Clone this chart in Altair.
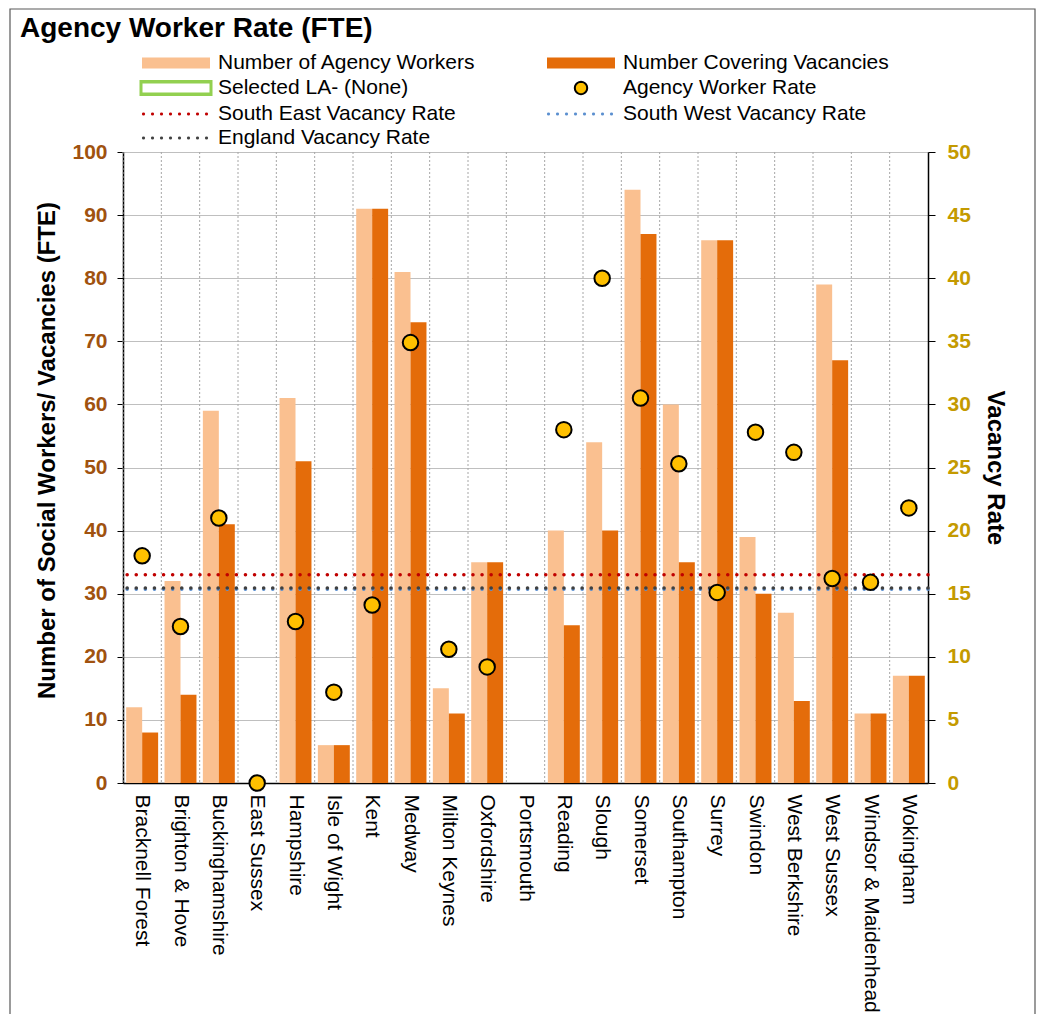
import math
import altair as alt
import pandas as pd

FONT = "Liberation Sans"

authorities = ["Bracknell Forest", "Brighton & Hove", "Buckinghamshire", "East Sussex",
               "Hampshire", "Isle of Wight", "Kent", "Medway", "Milton Keynes",
               "Oxfordshire", "Portsmouth", "Reading", "Slough", "Somerset",
               "Southampton", "Surrey", "Swindon", "West Berkshire", "West Sussex",
               "Windsor & Maidenhead", "Wokingham"]
agency_workers = [12, 32, 59, 0, 61, 6, 91, 81, 15, 35, None, 40, 54, 94, 60, 86, 39, 27, 79, 11, 17]
covering_vacancies = [8, 14, 41, 0, 51, 6, 91, 73, 11, 35, None, 25, 40, 87, 35, 86, 30, 13, 67, 11, 17]
agency_rate = [18.0, 12.4, 21.0, 0.0, 12.8, 7.2, 14.1, 34.9, 10.6, 9.2, None, 28.0, 40.0,
               30.5, 25.3, 15.1, 27.8, 26.2, 16.2, 15.9, 21.8]

region_names = ["South East Vacancy Rate", "South West Vacancy Rate", "England Vacancy Rate"]
region_rates = [16.5, 15.35, 15.45]
region_colors = ["#C00000", "#5B8FD0", "#404040"]

legend_items = ["Number of Agency Workers", "Number  Covering Vacancies", "Selected LA- (None)",
                "Agency Worker Rate", "South East Vacancy Rate", "South West Vacancy Rate",
                "England Vacancy Rate"]
legend_fills = ["#FAC090", "#E46C0A", "#92D050", "#FFC000", "#C00000", "#5B8FD0", "#404040"]
legend_strokes = ["transparent", "transparent", "transparent", "#000000",
                  "transparent", "transparent", "transparent"]


def poly_path(cx, r, n=16):
    pts = []
    for k in range(n):
        a = 2 * math.pi * k / n
        pts.append(f"{cx + r * math.cos(a):.3f},{r * math.sin(a):.3f}")
    return "M" + "L".join(pts) + "Z"


# legend symbol shapes (unit paths, scaled by the legend symbol size)
bar_path = "M-1,-0.55H5.8V0.55H-1Z"
ring_path = "M-1.25,-0.8H6.05V0.8H-1.25Z M-0.95,-0.45V0.45H5.75V-0.45Z"
circle_path = poly_path(2.4, 0.62, 20)
dot_path = " ".join(poly_path(-0.85 + i * 0.9, 0.16, 8) for i in range(8))
legend_shapes = [bar_path, bar_path, ring_path, circle_path, dot_path, dot_path, dot_path]

series_names = [legend_items[0], legend_items[1]]
series_colors = [legend_fills[0], legend_fills[1]]
rows = []
for i, a in enumerate(authorities):
    for s, vals in zip(series_names, [agency_workers, covering_vacancies]):
        if vals[i] is not None:
            rows.append({"authority": a, "series": s, "count": vals[i]})
bars_df = pd.DataFrame(rows)
rate_df = pd.DataFrame({"authority": authorities, "rate": agency_rate})
region_df = pd.DataFrame({"name": region_names, "rate": region_rates})
auth_df = pd.DataFrame({"authority": authorities})
legend_df = pd.DataFrame({"item": legend_items})

x_scale = alt.Scale(domain=authorities, paddingInner=0, paddingOuter=0)

LEFT_C = "#A0520F"
RIGHT_C = "#C49A00"

border = alt.Chart(alt.Data(values=[{"k": 1}])).mark_rect(
    fill="transparent", stroke="#595959", strokeWidth=1.2
).encode(x=alt.value(-113), x2=alt.value(912), y=alt.value(-143), y2=alt.value(880))

title_text = alt.Chart(alt.Data(values=[{"t": "Agency Worker Rate (FTE)"}])).mark_text(
    align="left", baseline="alphabetic", fontSize=28, fontWeight="bold", font=FONT, color="black"
).encode(text="t:N", x=alt.value(-103), y=alt.value(-115))

grid_rules = alt.Chart(auth_df).mark_rule(
    color="#A6A6A6", strokeDash=[2, 2], strokeWidth=1
).encode(x=alt.X("authority:N", bandPosition=0, scale=x_scale, sort=authorities))

bars = alt.Chart(bars_df).mark_bar().encode(
    x=alt.X("authority:N", scale=x_scale, sort=authorities, title=None,
            axis=alt.Axis(labelAngle=90, labelAlign="left", labelBaseline="middle",
                          labelFontSize=21, labelFont=FONT, labelColor="black",
                          labelPadding=11, labelLimit=400, labelOverlap=False, ticks=False,
                          domainColor="black", domainWidth=1.5, grid=False, title=None)),
    xOffset=alt.XOffset("series:N", scale=alt.Scale(domain=series_names, paddingOuter=0.2, paddingInner=0)),
    y=alt.Y("count:Q", scale=alt.Scale(domain=[0, 100], nice=False),
            title="Number of Social Workers/ Vacancies (FTE)",
            axis=alt.Axis(orient="left", values=list(range(0, 101, 10)), grid=True,
                          gridColor="#BFBFBF", gridWidth=1, domainColor="black", domainWidth=1.5,
                          tickColor="black", tickSize=6, labelFontSize=21, labelFont=FONT,
                          labelFontWeight="bold", labelColor=LEFT_C, labelPadding=10,
                          titleFontSize=24, titleFont=FONT, titleFontWeight="bold",
                          titleColor="black", titlePadding=12, titleY=298)),
    fill=alt.condition(alt.datum.series == series_names[0],
                       alt.value(series_colors[0]), alt.value(series_colors[1])),
)

rate_rules = [
    alt.Chart(region_df).transform_filter(alt.datum.name == nm).mark_rule(
        strokeDash=[0.1, 9], strokeCap="round", strokeWidth=3.5, color=col
    ).encode(y=alt.Y("rate:Q", scale=alt.Scale(domain=[0, 50], nice=False), axis=None))
    for nm, col in zip(region_names, region_colors)
]

points = alt.Chart(rate_df).mark_point(
    filled=True, fill="#FFC000", stroke="black", strokeWidth=2, size=240, opacity=1
).encode(
    x=alt.X("authority:N", scale=x_scale, sort=authorities),
    y=alt.Y("rate:Q", scale=alt.Scale(domain=[0, 50], nice=False), title="Vacancy Rate",
            axis=alt.Axis(orient="right", values=list(range(0, 51, 5)), grid=False,
                          domainColor="black", domainWidth=1.5, tickColor="black", tickSize=7,
                          labelFontSize=21, labelFont=FONT, labelFontWeight="bold",
                          labelColor=RIGHT_C, labelPadding=12, titleFontSize=24, titleFont=FONT,
                          titleFontWeight="bold", titleColor="black", titlePadding=12)),
)

leg = alt.Legend(title=None, orient="none", legendX=18, legendY=-100, columns=2,
                 direction="horizontal",
                 columnPadding=66, rowPadding=3, symbolSize=400, symbolStrokeWidth=2,
                 labelFont=FONT, labelFontSize=21, labelColor="black", labelOffset=55,
                 labelLimit=500, padding=0, symbolOpacity=1)

legend_layer = alt.Chart(legend_df).mark_point(filled=True, opacity=0).encode(
    color=alt.Color("item:N", scale=alt.Scale(domain=legend_items, range=legend_fills), legend=leg),
    shape=alt.Shape("item:N", scale=alt.Scale(domain=legend_items, range=legend_shapes), legend=leg),
    stroke=alt.Stroke("item:N", scale=alt.Scale(domain=legend_items, range=legend_strokes), legend=leg),
)

chart = alt.layer(border, title_text, grid_rules, bars, *rate_rules, points, legend_layer).resolve_scale(
    y="independent"
).properties(
    width=805, height=631,
    padding={"left": 115, "top": 144, "right": 108, "bottom": 231},
    autosize=alt.AutoSizeParams(type="none"),
).configure_view(stroke=None).configure(font=FONT)

chart.save("out.html", embed_options={"renderer": "svg", "actions": False})
